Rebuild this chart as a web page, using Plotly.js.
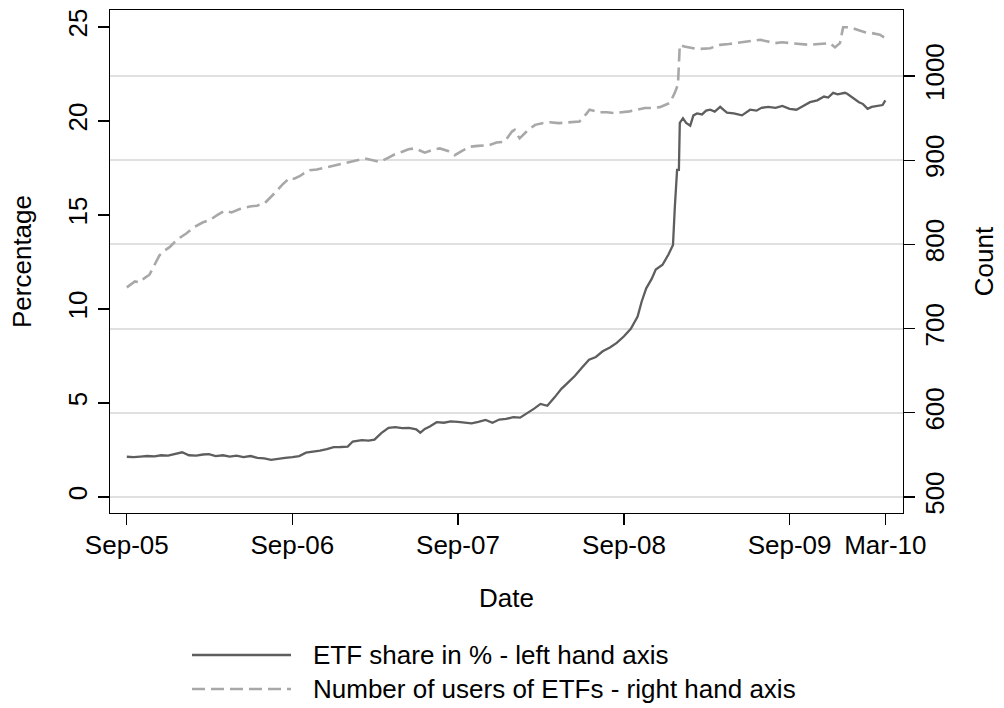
<!DOCTYPE html>
<html>
<head>
<meta charset="utf-8">
<script src="https://cdn.plot.ly/plotly-3.0.1.min.js"></script>
<style>html,body{margin:0;padding:0;background:#fff;}#chart{width:1004px;height:708px;}</style>
</head>
<body>
<div id="chart"></div>
<script>
// ETF share in % (left hand axis)
const shareDates = ['2005-09-01','2005-09-16','2005-10-01','2005-10-16','2005-11-01','2005-11-16','2005-12-01','2005-12-16','2006-01-01','2006-01-16','2006-02-01','2006-02-16','2006-03-01','2006-03-16','2006-04-01','2006-04-16','2006-05-01','2006-05-16','2006-06-01','2006-06-16','2006-07-01','2006-07-16','2006-08-01','2006-08-16','2006-09-01','2006-09-16','2006-10-01','2006-10-16','2006-11-01','2006-11-16','2006-12-01','2006-12-16','2007-01-01','2007-01-12','2007-02-01','2007-02-16','2007-03-01','2007-03-16','2007-04-01','2007-04-16','2007-05-01','2007-05-16','2007-06-01','2007-06-10','2007-06-20','2007-07-01','2007-07-16','2007-08-01','2007-08-16','2007-09-01','2007-09-16','2007-10-01','2007-10-16','2007-11-01','2007-11-16','2007-12-01','2007-12-16','2008-01-01','2008-01-16','2008-02-01','2008-02-16','2008-03-01','2008-03-16','2008-04-01','2008-04-16','2008-05-01','2008-05-16','2008-06-01','2008-06-16','2008-07-01','2008-07-16','2008-08-01','2008-08-16','2008-09-01','2008-09-16','2008-10-01','2008-10-10','2008-10-20','2008-11-01','2008-11-10','2008-11-25','2008-12-08','2008-12-18','2008-12-22','2008-12-27','2008-12-31','2009-01-02','2009-01-09','2009-01-16','2009-01-25','2009-02-01','2009-02-09','2009-02-20','2009-03-01','2009-03-10','2009-03-20','2009-04-01','2009-04-08','2009-04-16','2009-05-01','2009-05-19','2009-06-06','2009-06-20','2009-07-01','2009-07-16','2009-08-01','2009-08-16','2009-09-01','2009-09-16','2009-10-01','2009-10-16','2009-11-01','2009-11-16','2009-11-25','2009-12-06','2009-12-16','2010-01-01','2010-01-06','2010-01-17','2010-02-01','2010-02-10','2010-02-20','2010-03-01','2010-03-13','2010-03-25','2010-03-31'];
const shareValues = [2.14,2.12,2.15,2.18,2.16,2.22,2.2,2.3,2.38,2.22,2.2,2.26,2.28,2.18,2.22,2.15,2.2,2.12,2.18,2.08,2.05,1.98,2.05,2.08,2.12,2.18,2.36,2.4,2.47,2.55,2.65,2.66,2.68,2.95,3.02,3.0,3.05,3.4,3.68,3.72,3.66,3.68,3.6,3.42,3.62,3.75,3.98,3.95,4.02,4.0,3.95,3.92,4.0,4.1,3.95,4.12,4.15,4.25,4.22,4.45,4.7,4.95,4.85,5.3,5.75,6.1,6.45,6.9,7.3,7.45,7.75,7.95,8.2,8.55,8.95,9.6,10.4,11.1,11.6,12.1,12.35,12.9,13.4,15.4,17.4,17.4,19.9,20.15,19.9,19.75,20.3,20.4,20.35,20.55,20.6,20.5,20.75,20.6,20.45,20.4,20.3,20.6,20.55,20.7,20.75,20.7,20.8,20.65,20.6,20.8,21.0,21.1,21.3,21.25,21.5,21.42,21.5,21.45,21.25,21.0,20.9,20.65,20.75,20.8,20.85,21.1];

// Number of users of ETFs (right hand axis)
const userDates = ['2005-09-01','2005-09-10','2005-09-19','2005-09-30','2005-10-10','2005-10-21','2005-11-01','2005-11-12','2005-11-24','2005-12-05','2005-12-16','2005-12-27','2006-01-10','2006-01-29','2006-02-15','2006-03-03','2006-03-20','2006-04-05','2006-04-20','2006-05-08','2006-05-30','2006-06-15','2006-07-02','2006-07-12','2006-07-24','2006-08-10','2006-08-26','2006-09-05','2006-09-17','2006-10-01','2006-10-09','2006-10-25','2006-11-11','2006-12-03','2006-12-20','2007-01-06','2007-01-22','2007-02-08','2007-02-25','2007-03-13','2007-04-01','2007-04-15','2007-05-01','2007-05-15','2007-05-29','2007-06-10','2007-06-20','2007-07-05','2007-07-23','2007-08-10','2007-08-25','2007-09-10','2007-09-27','2007-10-15','2007-11-10','2007-11-25','2007-12-13','2007-12-29','2008-01-04','2008-01-10','2008-01-15','2008-02-01','2008-02-18','2008-03-05','2008-03-21','2008-04-10','2008-05-04','2008-05-26','2008-06-10','2008-06-17','2008-07-09','2008-07-25','2008-08-11','2008-08-28','2008-09-13','2008-10-01','2008-10-17','2008-11-05','2008-11-19','2008-12-11','2008-12-22','2008-12-29','2008-12-31','2009-01-02','2009-01-12','2009-01-24','2009-02-10','2009-03-10','2009-04-01','2009-04-20','2009-05-15','2009-06-05','2009-06-28','2009-07-15','2009-07-31','2009-08-15','2009-09-02','2009-09-20','2009-10-16','2009-11-05','2009-11-29','2009-12-10','2009-12-21','2009-12-28','2010-01-12','2010-01-28','2010-02-14','2010-03-01','2010-03-19','2010-03-31'];
const userValues = [749,752,756,755,760,764,775,787,793,797,803,808,813,821,826,829,835,840,838,842,845,846,849,855,861,871,879,878,881,886,888,889,891,894,896,898,900,902,900,898,903,907,910,913,914,911,909,912,914,911,906,911,916,917,918,921,922,934,936,930,926,935,942,944,945,944,945,946,955,960,957,957,956,957,958,960,962,962,963,968,980,990,1021,1037,1035,1034,1032,1033,1037,1038,1040,1041,1043,1041,1039,1040,1039,1038,1037,1038,1039,1034,1039,1058,1058,1055,1052,1051,1049,1045];

// Axis ticks
const xTickVals = ['2005-09-01','2006-09-01','2007-09-01','2008-09-01','2009-09-01','2010-03-31'];
const xTickText = ['Sep-05','Sep-06','Sep-07','Sep-08','Sep-09','Mar-10'];
const leftTicks = [0,5,10,15,20,25];
const rightTicks = [500,600,700,800,900,1000];

const seriesNames = ['ETF share in % - left hand axis','Number of users of ETFs - right hand axis'];

const FONT = 'Liberation Sans, Arial, Helvetica, sans-serif';
const FS = 26;
const solidColor = '#5e5e5e';
const dashColor = '#a8a8a8';

const traces = [
  {x: shareDates, y: shareValues, type: 'scatter', mode: 'lines', name: seriesNames[0],
   line: {color: solidColor, width: 2.3}, yaxis: 'y', showlegend: false},
  {x: userDates, y: userValues, type: 'scatter', mode: 'lines', name: seriesNames[1],
   line: {color: dashColor, width: 2.6, dash: '13px,6px'}, yaxis: 'y2', showlegend: false}
];

// legend drawn in paper coordinates (plot area: x 110-903, y 10-513)
function px2x(p){ return (p-110)/793; }
function py2y(p){ return (513-p)/503; }

const layout = {
  width: 1004, height: 708,
  margin: {l: 110, r: 101, t: 10, b: 195},
  paper_bgcolor: '#ffffff', plot_bgcolor: '#ffffff',
  font: {family: FONT, size: FS, color: '#000'},
  showlegend: false,
  xaxis: {
    type: 'date', range: ['2005-07-26','2010-05-09'],
    tickmode: 'array', tickvals: xTickVals, ticktext: xTickText,
    ticks: 'outside', ticklen: 11, tickwidth: 1.3, tickcolor: '#000',
    ticklabelstandoff: -3,
    showline: true, linecolor: '#000', linewidth: 1.3, mirror: true,
    showgrid: false, zeroline: false,
    tickfont: {family: FONT, size: FS},
    title: {text: 'Date', font: {family: FONT, size: FS}, standoff: 30}
  },
  yaxis: {
    range: [-0.851, 25.904],
    tickmode: 'array', tickvals: leftTicks,
    ticks: 'outside', ticklen: 11, tickwidth: 1.3, tickcolor: '#000',
    tickangle: -90,
    showline: true, linecolor: '#000', linewidth: 1.3,
    showgrid: false, zeroline: false,
    tickfont: {family: FONT, size: FS},
    title: {text: 'Percentage', font: {family: FONT, size: FS}, standoff: 24}
  },
  yaxis2: {
    overlaying: 'y', side: 'right',
    range: [481.0, 1078.4],
    tickmode: 'array', tickvals: rightTicks,
    ticks: 'outside', ticklen: 11, tickwidth: 1.3, tickcolor: '#000',
    tickangle: -90, ticklabelstandoff: -3,
    showline: true, linecolor: '#000', linewidth: 1.3,
    showgrid: true, gridcolor: '#e0e0e0', gridwidth: 2, zeroline: false,
    tickfont: {family: FONT, size: FS},
    title: {text: 'Count', font: {family: FONT, size: FS}, standoff: 26}
  },
  shapes: [
    {type: 'line', xref: 'paper', yref: 'paper', x0: px2x(192), x1: px2x(291), y0: py2y(655), y1: py2y(655),
     line: {color: solidColor, width: 2.3}},
    {type: 'line', xref: 'paper', yref: 'paper', x0: px2x(192), x1: px2x(291), y0: py2y(689), y1: py2y(689),
     line: {color: dashColor, width: 2.6, dash: '13px,6px'}}
  ],
  annotations: [
    {xref: 'paper', yref: 'paper', x: px2x(311), y: py2y(655), xanchor: 'left', yanchor: 'middle',
     text: seriesNames[0], showarrow: false, font: {family: FONT, size: FS}},
    {xref: 'paper', yref: 'paper', x: px2x(311), y: py2y(689), xanchor: 'left', yanchor: 'middle',
     text: seriesNames[1], showarrow: false, font: {family: FONT, size: FS}}
  ]
};

Plotly.newPlot('chart', traces, layout, {displayModeBar: false, staticPlot: true});
</script>
</body>
</html>
